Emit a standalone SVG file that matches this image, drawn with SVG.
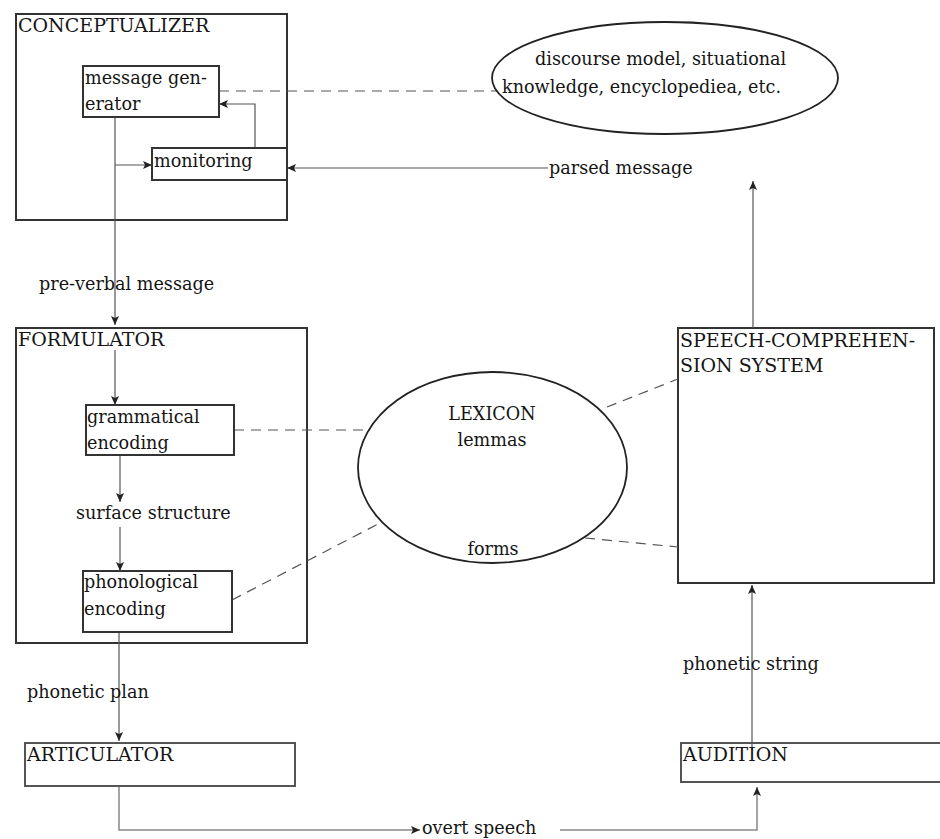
<svg xmlns="http://www.w3.org/2000/svg" width="940" height="839" viewBox="0 0 940 839">
<defs>
<marker id="arr" markerUnits="userSpaceOnUse" markerWidth="10" markerHeight="8" refX="9" refY="4" orient="auto">
<path d="M0,0 L9,4 L0,8 L2,4 z" fill="#222"/>
</marker>
<style>
text{font-family:"DejaVu Serif",serif;font-size:17.6px;fill:#151515}
.cap{font-size:19px}
.box{fill:#fff;stroke:#333;stroke-width:2}
.lbox{fill:none;stroke:#555;stroke-width:2}
.ln{fill:none;stroke:#555;stroke-width:1.2}
.lt{fill:none;stroke:#888;stroke-width:1.5}
.dash{fill:none;stroke:#555;stroke-width:1.2;stroke-dasharray:10 7}
.ell{fill:#fff;stroke:#222;stroke-width:1.8}
</style>
</defs>
<rect width="940" height="839" fill="#fff"/>

<g id="conceptualizer">
<rect class="box" x="16" y="14" width="271" height="206"/>
<text class="cap" x="18" y="32">CONCEPTUALIZER</text>
</g>
<g id="formulator">
<rect class="box" x="16" y="328" width="291" height="315"/>
<text class="cap" x="18" y="346">FORMULATOR</text>
</g>
<g id="speech-comprehension">
<rect class="box" x="678" y="328" width="256" height="255"/>
<text class="cap" x="680" y="347">SPEECH-COMPREHEN-</text>
<text class="cap" x="680" y="372">SION SYSTEM</text>
</g>

<g id="connectors">
<path class="ln" d="M115,117 V325" marker-end="url(#arr)"/>
<path class="ln" d="M115,350 V405" marker-end="url(#arr)"/>
<path class="ln" d="M115,165 H152" marker-end="url(#arr)"/>
<path class="ln" d="M255,148 V104 H219" marker-end="url(#arr)"/>
<path class="ln" d="M548,168 H287" marker-end="url(#arr)"/>
<path class="ln" d="M753,328 V181" marker-end="url(#arr)"/>
<path class="ln" d="M120,455 V502" marker-end="url(#arr)"/>
<path class="ln" d="M120,527 V571" marker-end="url(#arr)"/>
<path class="ln" d="M119,632 V741" marker-end="url(#arr)"/>
<path class="ln" d="M752,750 V585" marker-end="url(#arr)"/>
<path class="lt" d="M119,786 V830 H420" marker-end="url(#arr)"/>
<path class="lt" d="M560,830 H757 V787" marker-end="url(#arr)"/>
<path class="dash" d="M219,91 H497"/>
<path class="dash" d="M234,430 H371"/>
<path class="dash" d="M607,407 L678,379"/>
<path class="dash" d="M232,600 L380,523"/>
<path class="dash" d="M585,538 L678,547"/>
</g>

<g id="message-generator">
<rect class="box" x="83" y="66" width="136" height="51"/>
<text x="85" y="84">message gen-</text>
<text x="85" y="110">erator</text>
</g>
<g id="monitoring">
<rect class="box" x="152" y="148" width="135" height="32"/>
<text x="154" y="167">monitoring</text>
</g>
<g id="discourse-model">
<ellipse class="ell" cx="665" cy="78" rx="173" ry="56" fill="none"/>
<text x="535" y="65">discourse model, situational</text>
<text x="502" y="93">knowledge, encyclopediea, etc.</text>
</g>
<g id="grammatical-encoding">
<rect class="box" x="86" y="405" width="148" height="50"/>
<text x="87" y="423">grammatical</text>
<text x="87" y="449">encoding</text>
</g>
<g id="phonological-encoding">
<rect class="box" x="83" y="571" width="149" height="61"/>
<text x="84" y="588">phonological</text>
<text x="84" y="615">encoding</text>
</g>
<g id="lexicon">
<ellipse class="ell" cx="492.5" cy="467.5" rx="134.5" ry="95.5"/>
<text x="492" y="420" text-anchor="middle">LEXICON</text>
<text x="492" y="446" text-anchor="middle">lemmas</text>
<text x="493" y="555" text-anchor="middle">forms</text>
</g>
<g id="articulator">
<rect class="lbox" x="25" y="743" width="270" height="43"/>
<text class="cap" x="27" y="761">ARTICULATOR</text>
</g>
<g id="audition">
<rect class="lbox" x="681" y="743" width="270" height="39"/>
<text class="cap" x="683" y="761">AUDITION</text>
</g>

<g id="labels">
<text x="39" y="290">pre-verbal message</text>
<text x="76" y="519">surface structure</text>
<text x="27" y="698">phonetic plan</text>
<text x="549" y="174">parsed message</text>
<text x="683" y="670">phonetic string</text>
<text x="422" y="834">overt speech</text>
</g>
</svg>
